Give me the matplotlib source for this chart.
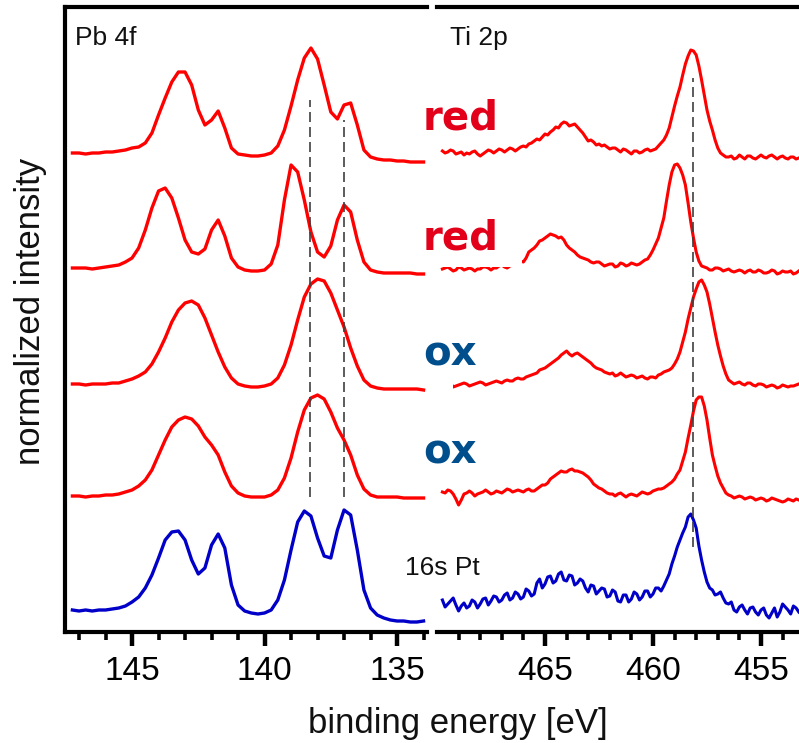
import numpy as np
import matplotlib
matplotlib.use("Agg")
import matplotlib.pyplot as plt
from matplotlib.patches import Rectangle
from matplotlib.ticker import FixedLocator

# ---------------- data ----------------
pb_energy = np.linspace(147.25, 134.0, 54)    # eV, Pb 4f sampling
ti_energy = np.linspace(469.75, 453.25, 133)  # eV, Ti 2p sampling

pb_red1 = [0, 0, -1, 0, 0, 1, 1, 2, 3, 5, 6, 10, 20, 38, 55, 71, 81, 81, 68, 43,
           28, 33, 42, 25, 5, -1, -2, -3, -3, -2, 0, 7, 23, 47, 73, 95, 105, 94, 68, 41,
           34, 48, 50, 28, 3, -4, -6, -7, -7, -8, -8, -9, -9, -9]
pb_red2 = [0, 0, 0, -1, 0, 1, 2, 3, 6, 10, 20, 38, 60, 77, 80, 70, 50, 28, 16, 14,
           19, 38, 48, 32, 10, 1, -2, -3, -3, -2, 4, 23, 68, 103, 96, 68, 36, 16, 11, 22,
           48, 63, 56, 28, 6, -2, -4, -5, -5, -5, -5, -5, -6, -6]
pb_ox1 = [0, 0, -1, 0, 0, 0, 1, 1, 3, 5, 8, 12, 20, 32, 46, 62, 74, 81, 83, 79,
          66, 49, 32, 17, 6, 0, -2, -3, -3, -2, 0, 6, 19, 39, 64, 87, 100, 105, 103, 91,
          74, 57, 36, 18, 4, -2, -4, -5, -5, -5, -5, -5, -5, -6]
pb_ox2 = [0, 0, -1, 0, 0, 1, 1, 2, 4, 6, 10, 16, 26, 41, 56, 69, 76, 79, 77, 70,
          59, 51, 41, 24, 10, 3, 0, -1, -1, -1, 1, 6, 18, 38, 64, 86, 98, 101, 97, 84,
          68, 56, 41, 21, 7, 1, -1, -1, -1, -1, -2, -2, -2, -2]
pb_pt = [0, -1, 0, -1, 0, 0, 1, 2, 4, 8, 13, 22, 35, 52, 70, 78, 79, 70, 50, 36,
         42, 65, 76, 62, 25, 5, -1, -3, -4, -3, 0, 10, 30, 60, 88, 99, 94, 72, 54, 52,
         80, 100, 95, 60, 20, 2, -5, -8, -10, -11, -11, -12, -12, -11]

ti_red1 = [2, 0, 1, 3, 2, -1, 0, 1, -2, 0, -1, 1, 2, -1, -3, -1, 1, 3, 2, 0,
           2, 4, 3, 1, 3, 5, 4, 2, 4, 6, 7, 6, 9, 10, 12, 14, 13, 16, 19, 18,
           21, 23, 26, 25, 29, 31, 30, 27, 28, 29, 26, 23, 20, 16, 12, 13, 11, 8, 9, 7,
           8, 6, 4, 5, 5, 3, 1, 4, 3, 1, -1, 2, 2, 0, 1, 3, 4, 2, 3, 4,
           7, 10, 13, 18, 25, 36, 47, 57, 66, 78, 89, 97, 103, 102, 98, 87, 73, 58, 43, 32,
           23, 13, 5, 0, -2, -4, -4, -3, -6, -5, -2, -4, -6, -3, -3, -5, -6, -4, -2, -4,
           -5, -3, -2, -4, -6, -4, -3, -5, -6, -4, -4, -6, -5]
ti_red2 = [-1, 0, 1, -1, -3, -2, 1, 0, -2, -1, 0, -1, -3, -1, -1, 1, 1, 0, -2, 0,
           0, 2, 3, 1, 0, 2, 3, 4, 5, 7, 6, 10, 16, 18, 20, 23, 27, 28, 30, 32,
           34, 33, 32, 30, 31, 28, 23, 20, 18, 16, 13, 11, 10, 9, 8, 6, 5, 6, 6, 4,
           2, 3, 4, 4, 1, 2, 5, 4, 2, 3, 5, 4, 3, 4, 6, 8, 9, 13, 18, 24,
           30, 40, 50, 67, 83, 96, 103, 104, 100, 93, 83, 65, 46, 30, 16, 7, 2, 1, 0, -2,
           -2, 0, 0, -1, -3, -2, -1, -3, -4, -3, -2, -3, -5, -3, -2, -4, -4, -2, -3, -5,
           -5, -4, -2, -3, -6, -5, -3, -4, -4, -3, -6, -5, -3]
ti_ox1 = [-2, -1, 0, 1, -3, -2, -1, 0, 1, 0, -2, -1, 0, 1, 2, 1, -1, 0, 1, 2,
          3, 2, 1, 3, 4, 3, 3, 5, 6, 5, 5, 7, 8, 9, 10, 11, 14, 15, 16, 18,
          20, 22, 24, 26, 29, 31, 33, 30, 28, 30, 31, 29, 27, 25, 23, 21, 18, 16, 15, 14,
          12, 11, 10, 11, 8, 9, 11, 9, 7, 8, 9, 8, 6, 7, 8, 6, 5, 7, 7, 6,
          9, 10, 12, 13, 14, 16, 20, 25, 32, 42, 52, 65, 76, 87, 95, 102, 104, 99, 92, 80,
          66, 52, 39, 28, 18, 10, 4, 2, 0, 1, 2, 0, -1, 1, 1, -1, -2, 0, 0, -1,
          -3, -2, -1, -2, -4, -3, -1, -2, -3, -2, -2, -1, 0]
ti_ox2 = [4, 3, 6, 5, 2, -3, -9, -4, 2, 3, 5, 3, 0, 2, 3, 4, 6, 4, 2, 3,
          5, 4, 3, 5, 7, 6, 4, 5, 6, 5, 4, 6, 7, 5, 5, 7, 9, 11, 11, 13,
          17, 19, 21, 23, 25, 24, 24, 26, 27, 25, 25, 24, 23, 21, 19, 16, 12, 10, 8, 7,
          5, 3, 2, 2, 0, 2, 3, 1, -1, 1, 2, 1, 0, 2, 4, 3, 2, 3, 5, 6,
          7, 7, 8, 10, 12, 14, 17, 22, 26, 35, 44, 58, 71, 85, 96, 99, 99, 90, 76, 58,
          41, 30, 20, 13, 8, 3, 1, 0, -2, -1, 0, -1, -3, -2, -1, -2, -4, -3, -2, -3,
          -5, -4, -2, -3, -4, -5, -6, -5, -3, -4, -5, -3, -4]
ti_pt = [10, 3, 6, 9, 12, 5, -1, 4, 7, 2, 4, 10, 8, 2, 6, 11, 12, 5, 9, 14,
         13, 8, 10, 15, 17, 10, 12, 18, 16, 11, 13, 21, 19, 14, 16, 27, 31, 22, 26, 33,
         34, 27, 29, 36, 38, 30, 29, 35, 34, 25, 27, 31, 29, 22, 18, 25, 24, 16, 19, 22,
         21, 13, 14, 20, 18, 9, 8, 15, 15, 8, 11, 18, 16, 10, 13, 19, 19, 13, 16, 22,
         22, 19, 24, 30, 36, 46, 54, 63, 70, 77, 83, 93, 96, 90, 82, 64, 50, 38, 28, 22,
         20, 15, 16, 18, 12, 7, 6, 8, 0, -2, 3, 5, 0, -4, 2, 3, -2, -5, 0, 2,
         -5, -8, -3, 2, -7, -2, 6, 3, 0, -4, 4, 2, -2]

stack_offsets = [479, 364, 248, 136, 22]
trace_colors = ["#ff0000", "#ff0000", "#ff0000", "#ff0000", "#0000c8"]

pb_guides = [138.3, 137.0]
pb_guide_top = [532, 512]
pb_guide_bottom = [135, 135]
ti_guides = [458.15]
ti_guide_top = [554]
ti_guide_bottom = [85]

sample_labels = ["red", "red", "ox", "ox"]
sample_label_colors = ["#e2001a", "#e2001a", "#004f8c", "#004f8c"]

# ---------------- figure ----------------
W, H = 799, 743
fig = plt.figure(figsize=(W / 100, H / 100), dpi=100)
fig.patch.set_facecolor("white")

def fx(px):
    return px / W

def fy(py):
    return 1 - py / H

ax1 = fig.add_axes([fx(65), fy(632), fx(427) - fx(65), fy(7) - fy(632)])
ax2 = fig.add_axes([fx(437), fy(632), fx(799) - fx(437), fy(7) - fy(632)])

sans = ["Liberation Sans", "DejaVu Sans"]

pb_series = [pb_red1, pb_red2, pb_ox1, pb_ox2, pb_pt]
ti_series = [ti_red1, ti_red2, ti_ox1, ti_ox2, ti_pt]

for s, off, c in zip(pb_series, stack_offsets, trace_colors):
    ax1.plot(pb_energy, np.asarray(s) + off, color=c, lw=2.4, solid_joinstyle="round")
for s, off, c in zip(ti_series, stack_offsets, trace_colors):
    ax2.plot(ti_energy, np.asarray(s) + off, color=c, lw=2.2, solid_joinstyle="round")

dash = (0, (6, 3))
for e, t, b in zip(pb_guides, pb_guide_top, pb_guide_bottom):
    ax1.plot([e, e], [b, t], color="#404040", lw=1.2, linestyle=dash)
for e, t, b in zip(ti_guides, ti_guide_top, ti_guide_bottom):
    ax2.plot([e, e], [b, t], color="#404040", lw=1.2, linestyle=dash)

ax1.set_xlim(147.53, 133.87)
ax2.set_xlim(470.0, 453.24)
for ax in (ax1, ax2):
    ax.set_ylim(0, 625)
    ax.set_yticks([])
    ax.spines["right"].set_visible(False)
    for sp in ("top", "bottom", "left"):
        ax.spines[sp].set_linewidth(3.0)
    ax.tick_params(axis="x", which="major", direction="out", length=10, width=3.2,
                   pad=7, labelsize=24)
    ax.tick_params(axis="x", which="minor", direction="out", length=6, width=2.6)
ax2.spines["left"].set_visible(False)

ax1.xaxis.set_major_locator(FixedLocator([145, 140, 135]))
ax1.xaxis.set_minor_locator(FixedLocator(list(range(134, 148))))
ax2.xaxis.set_major_locator(FixedLocator([465, 460, 455]))
ax2.xaxis.set_minor_locator(FixedLocator(list(range(454, 470))))
for ax in (ax1, ax2):
    for lab in ax.get_xticklabels():
        lab.set_family(sans)
        lab.set_fontsize(24)

# axis titles and panel labels
fig.text(fx(458), fy(733), "binding energy [eV]", ha="center", va="baseline",
         fontsize=25, family=sans, color="#111111")
fig.text(fx(31), fy(311), "normalized intensity", ha="center", va="center",
         rotation=90, fontsize=25, family=sans, color="#111111")
fig.text(fx(75), fy(45), "Pb 4f", ha="left", va="baseline", fontsize=19,
         family=sans, color="#111111")
fig.text(fx(450), fy(45), "Ti 2p", ha="left", va="baseline", fontsize=19,
         family=sans, color="#111111")
fig.text(fx(405), fy(575), "16s Pt", ha="left", va="baseline", fontsize=19,
         family=sans, color="#111111")

# white masks behind the sample labels (as in the composed original)
masks = [(412, 205, 522, 267), (430, 335, 453, 392)]
for x0, y0, x1, y1 in masks:
    fig.add_artist(Rectangle((fx(x0), fy(y1)), fx(x1) - fx(x0), fy(y0) - fy(y1),
                             transform=fig.transFigure, facecolor="white",
                             edgecolor="none", zorder=5))

label_baselines = [130, 250, 365, 463]
for txt, col, yb in zip(sample_labels, sample_label_colors, label_baselines):
    fig.text(fx(423), fy(yb), txt, ha="left", va="baseline", fontsize=29,
             fontweight="bold", family=["DejaVu Sans"], color=col, zorder=6,
             bbox=dict(facecolor="white", edgecolor="none", pad=1))

fig.savefig("out.png", dpi=100, facecolor="white")
